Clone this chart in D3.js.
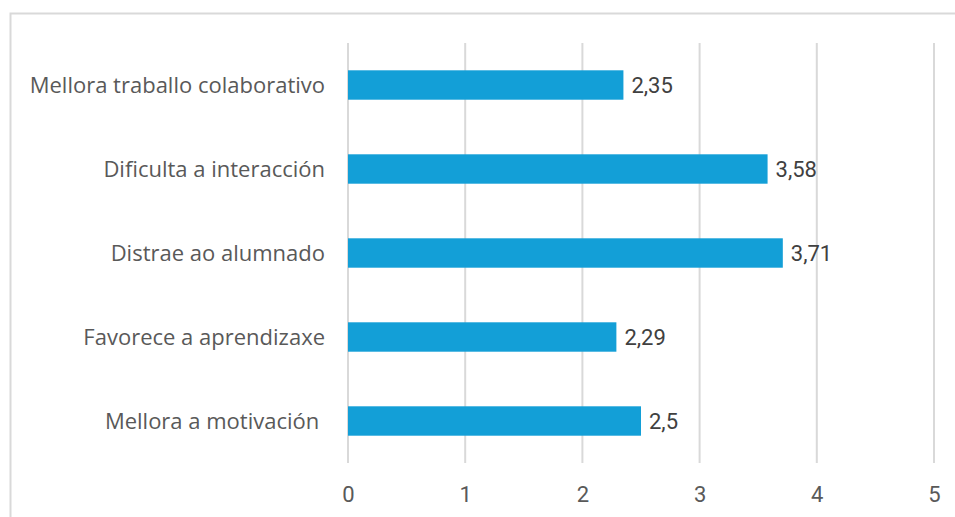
<!DOCTYPE html>
<html>
<head>
<meta charset="utf-8">
<script src="https://cdn.jsdelivr.net/npm/d3@7"></script>
<style>
  body { margin: 0; background: #fff; }
  .cat { font-family: "Open Sans", sans-serif; font-size: 22px; fill: #595959; white-space: pre; }
  .num { font-family: Roboto, "Liberation Sans", sans-serif; font-size: 22px; fill: #404040; }
  .tick-lbl { font-family: Roboto, "Liberation Sans", sans-serif; font-size: 22px; fill: #595959; }
</style>
</head>
<body>
<div id="chart"></div>
<script>
// categories, top to bottom
var categories = [
  "Mellora traballo colaborativo",
  "Dificulta a interacción",
  "Distrae ao alumnado",
  "Favorece a aprendizaxe",
  "Mellora a motivación "
];
var values = [2.35, 3.58, 3.71, 2.29, 2.5];
var valueLabels = ["2,35", "3,58", "3,71", "2,29", "2,5"];
var ticks = [0, 1, 2, 3, 4, 5];

var W = 955, H = 517;
var margin = {top: 43, left: 348, right: 21, bottom: 54};

var svg = d3.select("#chart").append("svg")
  .attr("width", W).attr("height", H);

// outer chart border
svg.append("rect")
  .attr("x", 10.5).attr("y", 13.5)
  .attr("width", 960).attr("height", 520)
  .attr("fill", "none").attr("stroke", "#d9d9d9").attr("stroke-width", 2);

var g = svg.append("g")
  .attr("transform", "translate(" + margin.left + "," + margin.top + ")");

var x = d3.scaleLinear().domain([0, 5]).range([0, 586]);
var y = d3.scaleBand().domain(categories).range([0, 420]).paddingInner(0.65).paddingOuter(0.325);

// gridlines
g.selectAll(".grid").data(ticks).enter().append("line")
  .attr("x1", function(d) { return x(d); })
  .attr("x2", function(d) { return x(d); })
  .attr("y1", 0).attr("y2", 420)
  .attr("stroke", "#d9d9d9").attr("stroke-width", 2);

// bars
g.selectAll(".bar").data(values).enter().append("rect")
  .attr("x", x(0))
  .attr("y", function(d, i) { return y(categories[i]); })
  .attr("width", function(d) { return x(d) - x(0); })
  .attr("height", y.bandwidth())
  .attr("fill", "#139fd7");

// value labels
g.selectAll(".vlab").data(values).enter().append("text")
  .attr("class", "num")
  .attr("x", function(d) { return x(d) + 8; })
  .attr("y", function(d, i) { return y(categories[i]) + y.bandwidth() / 2; })
  .attr("dy", "0.36em")
  .text(function(d, i) { return valueLabels[i]; });

// category labels
g.selectAll(".cat").data(categories).enter().append("text")
  .attr("class", "cat")
  .attr("x", -23)
  .attr("y", function(d) { return y(d) + y.bandwidth() / 2; })
  .attr("dy", "0.36em")
  .attr("text-anchor", "end")
  .text(function(d) { return d; });

// x axis labels
var xAxis = d3.axisBottom(x).tickValues(ticks).tickSize(0).tickPadding(0)
  .tickFormat(function(d) { return d; });
var ax = g.append("g")
  .attr("transform", "translate(0,436)")
  .call(xAxis);
ax.select(".domain").remove();
ax.selectAll("text")
  .attr("class", "tick-lbl")
  .attr("fill", null)
  .attr("dy", "1.05em")
  .style("font-size", null);
</script>
</body>
</html>
